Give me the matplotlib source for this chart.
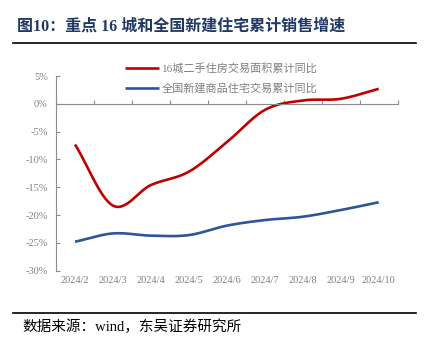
import matplotlib
matplotlib.use("Agg")
import matplotlib.pyplot as plt
import numpy as np

plt.rcParams["font.family"] = ["Noto Sans CJK SC", "DejaVu Sans"]

months = ["2024/2", "2024/3", "2024/4", "2024/5", "2024/6",
          "2024/7", "2024/8", "2024/9", "2024/10"]
city16 = [-7.3, -18.3, -14.6, -12.2, -6.9, -1.1, 0.6, 0.9, 2.7]
national = [-24.8, -23.3, -23.7, -23.6, -21.9, -20.9, -20.3, -19.1, -17.7]
names = ["16城二手住房交易面积累计同比", "全国新建商品住宅交易累计同比"]
colors = ["#C00000", "#2F5597"]


def smooth(y, n=30):
    # catmull-rom curve through the points, like excel's smoothed line
    y = np.asarray(y, float)
    p = np.concatenate([[2 * y[0] - y[1]], y, [2 * y[-1] - y[-2]]])
    xs, ys = [], []
    for i in range(len(y) - 1):
        t = np.linspace(0, 1, n, endpoint=False)
        p0, p1, p2, p3 = p[i], p[i + 1], p[i + 2], p[i + 3]
        ys.append(0.5 * (2 * p1 + (-p0 + p2) * t + (2 * p0 - 5 * p1 + 4 * p2 - p3) * t ** 2
                         + (-p0 + 3 * p1 - 3 * p2 + p3) * t ** 3))
        xs.append(i + t)
    xs.append([len(y) - 1])
    ys.append([y[-1]])
    return np.concatenate(xs), np.concatenate(ys)


fig = plt.figure(figsize=(4.31, 3.41), dpi=100)
ax = fig.add_axes([0.130, 0.2062, 0.7927, 0.5709])

x = np.arange(len(months))
for vals, name, c in zip([city16, national], names, colors):
    sx, sy = smooth(vals)
    ax.plot(sx, sy, color=c, lw=1.9, label=name, solid_capstyle="butt")

ax.set_xlim(-0.5, len(months) - 0.5)
ax.set_ylim(-30, 5)
gray = "#8C8C8C"
for s in ["top", "right"]:
    ax.spines[s].set_visible(False)
ax.spines["left"].set_color(gray)
ax.spines["bottom"].set_color(gray)
ax.spines["bottom"].set_position(("data", 0))

yt = np.arange(-30, 6, 5)
ax.set_yticks(yt)
ax.set_yticklabels([f"{v}%" for v in yt], family="Liberation Serif",
                   fontsize=7.5, color="#808080")
ax.tick_params(axis="y", direction="in", length=3, color=gray, pad=6)

ax.set_xticks(np.arange(-0.5, len(months), 1))
ax.set_xticklabels([])
ax.tick_params(axis="x", direction="in", length=3, color=gray)
for i, m in enumerate(months):
    ax.text(i, -0.05, m, transform=ax.get_xaxis_transform(), ha="center", va="center",
            family="Liberation Serif", fontsize=7.5, color="#808080")

leg = ax.legend(loc="upper left", bbox_to_anchor=(0.174, 1.12), frameon=False,
                handlelength=3.0, handletextpad=0.3, labelspacing=0.85,
                prop={"family": ["Liberation Serif", "Noto Sans CJK SC"], "size": 8})
for t in leg.get_texts():
    t.set_color("#7F7F7F")

fig.text(0.04, 0.921, "图10：重点 16 城和全国新建住宅累计销售增速", fontsize=11.5,
         fontweight="bold", color="#1F3864", va="center",
         family=["Liberation Serif", "Noto Sans CJK SC"])
fig.add_artist(plt.Line2D([0.03, 0.965], [0.874, 0.874], color="black", lw=1.2))
fig.add_artist(plt.Line2D([0.03, 0.965], [0.082, 0.082], color="black", lw=1.2))
fig.text(0.053, 0.041, "数据来源：wind，东吴证券研究所", fontsize=10.5, va="center",
         color="black", family=["Liberation Serif", "Noto Sans CJK SC"])

fig.savefig("out.png", dpi=100)
